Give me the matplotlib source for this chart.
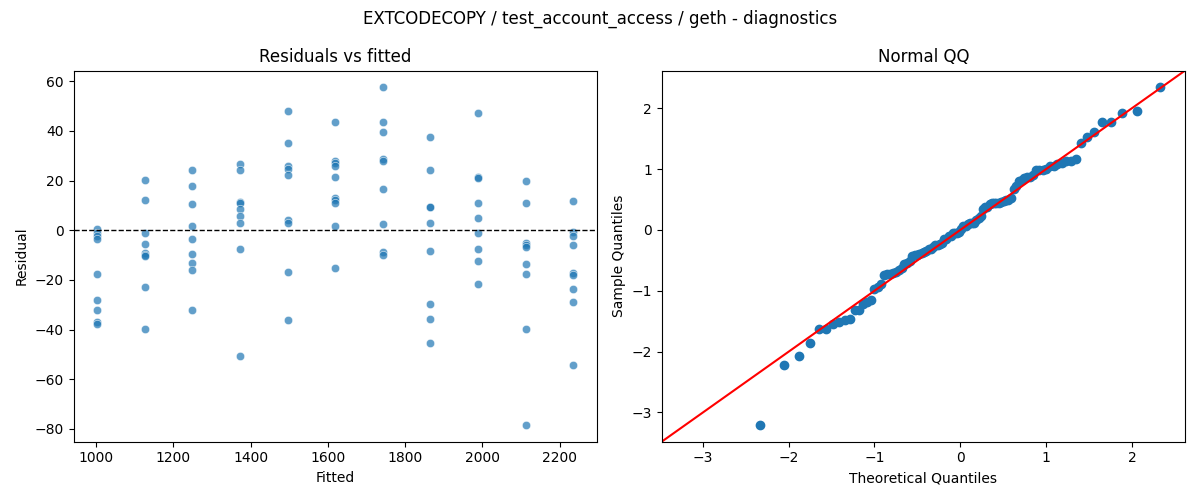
import numpy as np
import matplotlib
matplotlib.use("Agg")
import matplotlib.pyplot as plt
from statistics import NormalDist

# fitted levels and residuals
fitted_levels = [1003, 1126, 1249, 1373, 1496, 1619, 1742, 1865, 1988, 2112, 2235]
residual_groups = [
    [0.5, -1.0, -2.2, -3.6, -17.7, -28.2, -32.2, -36.8, -37.7],
    [20.1, 12.1, -1.0, -5.6, -9.3, -9.9, -10.5, -22.9, -39.8],
    [24.1, 17.7, 10.5, 1.6, -3.4, -9.6, -13.3, -16.1, -32.2],
    [26.5, 24.1, 11.3, 10.9, 8.6, 5.6, 2.8, -7.4, -50.7],
    [48.0, 35.0, 25.9, 24.5, 22.1, 4.2, 2.8, -16.9, -36.0],
    [43.4, 27.9, 26.9, 25.9, 21.3, 13.1, 12.2, 11.1, 1.9, -15.3],
    [57.5, 43.4, 39.4, 28.5, 27.9, 16.5, 2.4, -8.7, -10.1],
    [37.7, 24.1, 9.5, 9.2, 2.8, -8.4, -29.7, -35.6, -45.4],
    [47.4, 21.3, 21.0, 10.9, 4.8, -1.2, -7.6, -12.5, -21.7],
    [19.8, 10.9, -5.1, -6.0, -6.6, -13.5, -17.6, -39.8, -78.4],
    [11.7, -0.9, -2.5, -6.0, -17.3, -17.9, -23.7, -28.8, -54.3],
]

fitted = np.concatenate([[f] * len(r) for f, r in zip(fitted_levels, residual_groups)])
resid = np.concatenate(residual_groups)

fig, (ax1, ax2) = plt.subplots(1, 2, figsize=(12, 5))
fig.suptitle("EXTCODECOPY / test_account_access / geth - diagnostics")

# Residuals vs fitted
ax1.scatter(fitted, resid, s=36, color="C0", alpha=0.7, edgecolor="white", linewidth=0.48)
ax1.axhline(0, color="black", linestyle="--", linewidth=1)
ax1.set_title("Residuals vs fitted")
ax1.set_xlabel("Fitted")
ax1.set_ylabel("Residual")

# Normal QQ (standardised sample vs normal quantiles, 45 degree line)
n = len(resid)
sample_q = np.sort((resid - resid.mean()) / resid.std())
theo_q = np.array([NormalDist().inv_cdf(i / (n + 1)) for i in range(1, n + 1)])
ax2.plot(theo_q, sample_q, marker="o", linestyle="none", color="C0")
lo = min(ax2.get_xlim()[0], ax2.get_ylim()[0])
hi = max(ax2.get_xlim()[1], ax2.get_ylim()[1])
ax2.plot([lo, hi], [lo, hi], color="r")
ax2.set_xlim(lo, hi)
ax2.set_ylim(lo, hi)
ax2.set_title("Normal QQ")
ax2.set_xlabel("Theoretical Quantiles")
ax2.set_ylabel("Sample Quantiles")

plt.tight_layout()
plt.savefig("out.png", dpi=100)
